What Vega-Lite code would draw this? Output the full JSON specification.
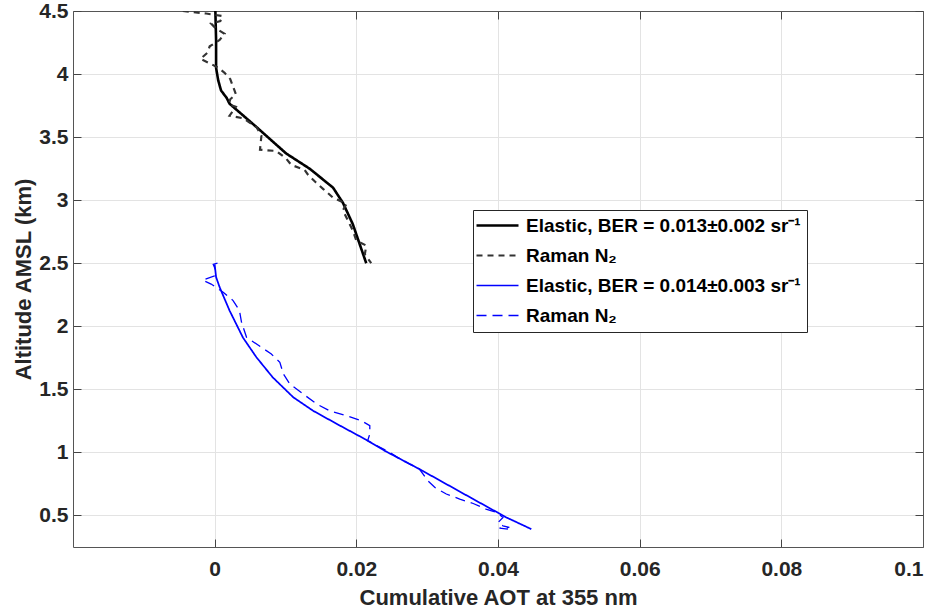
{
  "$schema": "https://vega.github.io/schema/vega-lite/v6.json",
  "width": 850,
  "height": 536,
  "autosize": {"type": "none"},
  "padding": {"left": 73, "top": 11, "right": 16, "bottom": 64},
  "background": "white",
  "config": {
    "view": {"stroke": null},
    "font": "Liberation Sans",
    "axis": {
      "labelFont": "Liberation Sans",
      "labelFontWeight": "bold",
      "labelFontSize": 21,
      "labelColor": "#262626",
      "titleFont": "Liberation Sans",
      "titleFontWeight": "bold",
      "titleFontSize": 22,
      "titleColor": "#262626",
      "domainColor": "#555555",
      "domainWidth": 1,
      "tickColor": "#444444",
      "tickSize": -8,
      "gridColor": "#e3e3e3",
      "gridWidth": 1
    }
  },
  "data": {
    "values": [
      {"s": "a", "x": 0.0001, "y": 4.5},
      {"s": "a", "x": 0.0002, "y": 4.27},
      {"s": "a", "x": 0.0002, "y": 4.05},
      {"s": "a", "x": 0.0005, "y": 3.95},
      {"s": "a", "x": 0.0009, "y": 3.87},
      {"s": "a", "x": 0.0017, "y": 3.81},
      {"s": "a", "x": 0.0021, "y": 3.765},
      {"s": "a", "x": 0.0059, "y": 3.58},
      {"s": "a", "x": 0.0101, "y": 3.37},
      {"s": "a", "x": 0.0134, "y": 3.25},
      {"s": "a", "x": 0.0167, "y": 3.1},
      {"s": "a", "x": 0.0181, "y": 2.98},
      {"s": "a", "x": 0.0195, "y": 2.81},
      {"s": "a", "x": 0.0214, "y": 2.5},

      {"s": "b", "x": -0.0045, "y": 4.5},
      {"s": "b", "x": -0.0012, "y": 4.48},
      {"s": "b", "x": 0.0011, "y": 4.46},
      {"s": "b", "x": 0.0008, "y": 4.42},
      {"s": "b", "x": -0.0005, "y": 4.4},
      {"s": "b", "x": 0.0002, "y": 4.36},
      {"s": "b", "x": 0.0014, "y": 4.32},
      {"s": "b", "x": 0.0007, "y": 4.27},
      {"s": "b", "x": -0.0007, "y": 4.22},
      {"s": "b", "x": -0.001, "y": 4.17},
      {"s": "b", "x": -0.002, "y": 4.12},
      {"s": "b", "x": -0.0005, "y": 4.08},
      {"s": "b", "x": 0.0005, "y": 4.05},
      {"s": "b", "x": 0.0014, "y": 4.01},
      {"s": "b", "x": 0.0022, "y": 3.96},
      {"s": "b", "x": 0.0026, "y": 3.9},
      {"s": "b", "x": 0.003, "y": 3.84},
      {"s": "b", "x": 0.0022, "y": 3.8},
      {"s": "b", "x": 0.002, "y": 3.76},
      {"s": "b", "x": 0.003, "y": 3.74},
      {"s": "b", "x": 0.0021, "y": 3.67},
      {"s": "b", "x": 0.004, "y": 3.65},
      {"s": "b", "x": 0.0059, "y": 3.58},
      {"s": "b", "x": 0.0066, "y": 3.51},
      {"s": "b", "x": 0.0064, "y": 3.4},
      {"s": "b", "x": 0.0087, "y": 3.39},
      {"s": "b", "x": 0.0101, "y": 3.33},
      {"s": "b", "x": 0.0108, "y": 3.28},
      {"s": "b", "x": 0.0127, "y": 3.24},
      {"s": "b", "x": 0.0132, "y": 3.2},
      {"s": "b", "x": 0.0143, "y": 3.14},
      {"s": "b", "x": 0.0153, "y": 3.09},
      {"s": "b", "x": 0.0167, "y": 3.02},
      {"s": "b", "x": 0.0186, "y": 2.97},
      {"s": "b", "x": 0.0181, "y": 2.92},
      {"s": "b", "x": 0.0188, "y": 2.84},
      {"s": "b", "x": 0.0195, "y": 2.76},
      {"s": "b", "x": 0.02, "y": 2.68},
      {"s": "b", "x": 0.0214, "y": 2.64},
      {"s": "b", "x": 0.0212, "y": 2.57},
      {"s": "b", "x": 0.0221, "y": 2.5},

      {"s": "c", "x": 0.0, "y": 2.49},
      {"s": "c", "x": 0.0002, "y": 2.39},
      {"s": "c", "x": 0.0007, "y": 2.31},
      {"s": "c", "x": 0.0021, "y": 2.125},
      {"s": "c", "x": 0.004, "y": 1.91},
      {"s": "c", "x": 0.0059, "y": 1.754},
      {"s": "c", "x": 0.0082, "y": 1.595},
      {"s": "c", "x": 0.0111, "y": 1.437},
      {"s": "c", "x": 0.0139, "y": 1.33},
      {"s": "c", "x": 0.0176, "y": 1.215},
      {"s": "c", "x": 0.0214, "y": 1.1},
      {"s": "c", "x": 0.024, "y": 1.013},
      {"s": "c", "x": 0.0289, "y": 0.868},
      {"s": "c", "x": 0.0365, "y": 0.63},
      {"s": "c", "x": 0.0412, "y": 0.484},
      {"s": "c", "x": 0.0447, "y": 0.392},

      {"s": "d", "x": 0.0004, "y": 2.5},
      {"s": "d", "x": -0.0002, "y": 2.49},
      {"s": "d", "x": 0.0001, "y": 2.45},
      {"s": "d", "x": 0.0, "y": 2.4},
      {"s": "d", "x": -0.0017, "y": 2.365},
      {"s": "d", "x": -0.0005, "y": 2.335},
      {"s": "d", "x": 0.0012, "y": 2.27},
      {"s": "d", "x": 0.0026, "y": 2.204},
      {"s": "d", "x": 0.0035, "y": 2.125},
      {"s": "d", "x": 0.0038, "y": 2.03},
      {"s": "d", "x": 0.0045, "y": 1.913},
      {"s": "d", "x": 0.0066, "y": 1.833},
      {"s": "d", "x": 0.008, "y": 1.78},
      {"s": "d", "x": 0.0092, "y": 1.714},
      {"s": "d", "x": 0.0097, "y": 1.622},
      {"s": "d", "x": 0.0106, "y": 1.543},
      {"s": "d", "x": 0.0125, "y": 1.463},
      {"s": "d", "x": 0.0144, "y": 1.384},
      {"s": "d", "x": 0.0162, "y": 1.331},
      {"s": "d", "x": 0.0186, "y": 1.291},
      {"s": "d", "x": 0.0207, "y": 1.252},
      {"s": "d", "x": 0.0219, "y": 1.212},
      {"s": "d", "x": 0.0219, "y": 1.146},
      {"s": "d", "x": 0.0216, "y": 1.093},
      {"s": "d", "x": 0.0247, "y": 1.0},
      {"s": "d", "x": 0.0266, "y": 0.934},
      {"s": "d", "x": 0.0289, "y": 0.868},
      {"s": "d", "x": 0.0301, "y": 0.775},
      {"s": "d", "x": 0.0311, "y": 0.722},
      {"s": "d", "x": 0.0327, "y": 0.67},
      {"s": "d", "x": 0.0346, "y": 0.63},
      {"s": "d", "x": 0.0365, "y": 0.595},
      {"s": "d", "x": 0.0383, "y": 0.551},
      {"s": "d", "x": 0.0398, "y": 0.524},
      {"s": "d", "x": 0.0407, "y": 0.484},
      {"s": "d", "x": 0.04, "y": 0.444},
      {"s": "d", "x": 0.0407, "y": 0.418},
      {"s": "d", "x": 0.0416, "y": 0.405},
      {"s": "d", "x": 0.0402, "y": 0.4},
      {"s": "d", "x": 0.0418, "y": 0.39}
    ]
  },
  "layer": [
    {
      "mark": {"type": "line", "clip": true},
      "encoding": {
        "x": {
          "field": "x", "type": "quantitative",
          "scale": {"domain": [-0.02, 0.1], "nice": false, "zero": false},
          "axis": {
            "orient": "bottom",
            "title": "Cumulative AOT at 355 nm",
            "values": [0, 0.02, 0.04, 0.06, 0.08, 0.1],
            "format": ".2~f",
            "labelPadding": 19,
            "titlePadding": 8,
            "grid": true
          }
        },
        "y": {
          "field": "y", "type": "quantitative",
          "scale": {"domain": [0.25, 4.5], "nice": false, "zero": false},
          "axis": {
            "orient": "left",
            "title": "Altitude AMSL (km)",
            "values": [0.5, 1, 1.5, 2, 2.5, 3, 3.5, 4, 4.5],
            "format": "~g",
            "labelPadding": 13,
            "titlePadding": 3,
            "grid": true
          }
        },
        "color": {
          "field": "s", "type": "nominal",
          "scale": {"domain": ["a", "b", "c", "d"], "range": ["#000000", "#333333", "#0000ff", "#0000ff"]},
          "legend": {
            "orient": "none",
            "legendX": 400,
            "legendY": 199,
            "title": null,
            "labelExpr": "datum.value == 'a' ? 'Elastic, BER = 0.013\u00b10.002 sr\u207b\u00b9' : datum.value == 'c' ? 'Elastic, BER = 0.014\u00b10.003 sr\u207b\u00b9' : 'Raman N\u2082'",
            "labelFont": "Liberation Sans",
            "labelFontWeight": "bold",
            "labelFontSize": 19,
            "labelLimit": 500,
            "labelColor": "#000000",
            "symbolType": "M-3,0H3",
            "symbolSize": 196,
            "symbolOffset": 9,
            "labelOffset": 19,
            "symbolStrokeWidth": 2,
            "rowPadding": 10,
            "padding": 6,
            "fillColor": "white",
            "strokeColor": "#262626"
          }
        },
        "strokeDash": {
          "field": "s", "type": "nominal",
          "scale": {"domain": ["a", "b", "c", "d"], "range": [[1, 0], [6, 5], [1, 0], [10, 6]]},
          "legend": {
            "orient": "none",
            "legendX": 400,
            "legendY": 199,
            "title": null
          }
        },
        "strokeWidth": {
          "field": "s", "type": "ordinal",
          "scale": {"domain": ["a", "b", "c", "d"], "range": [2.6, 1.3, 2.6, 2.6]},
          "legend": null
        },
        "order": {"value": null}
      }
    },
    {
      "mark": {"type": "point", "opacity": 0},
      "encoding": {
        "x": {
          "field": "x", "type": "quantitative",
          "axis": {
            "orient": "top",
            "title": null,
            "labels": false,
            "values": [0, 0.02, 0.04, 0.06, 0.08, 0.1],
            "grid": false
          }
        },
        "y": {
          "field": "y", "type": "quantitative",
          "axis": {
            "orient": "right",
            "title": null,
            "labels": false,
            "values": [0.5, 1, 1.5, 2, 2.5, 3, 3.5, 4, 4.5],
            "grid": false
          }
        }
      }
    }
  ],
  "resolve": {"axis": {"x": "independent", "y": "independent"}}
}
